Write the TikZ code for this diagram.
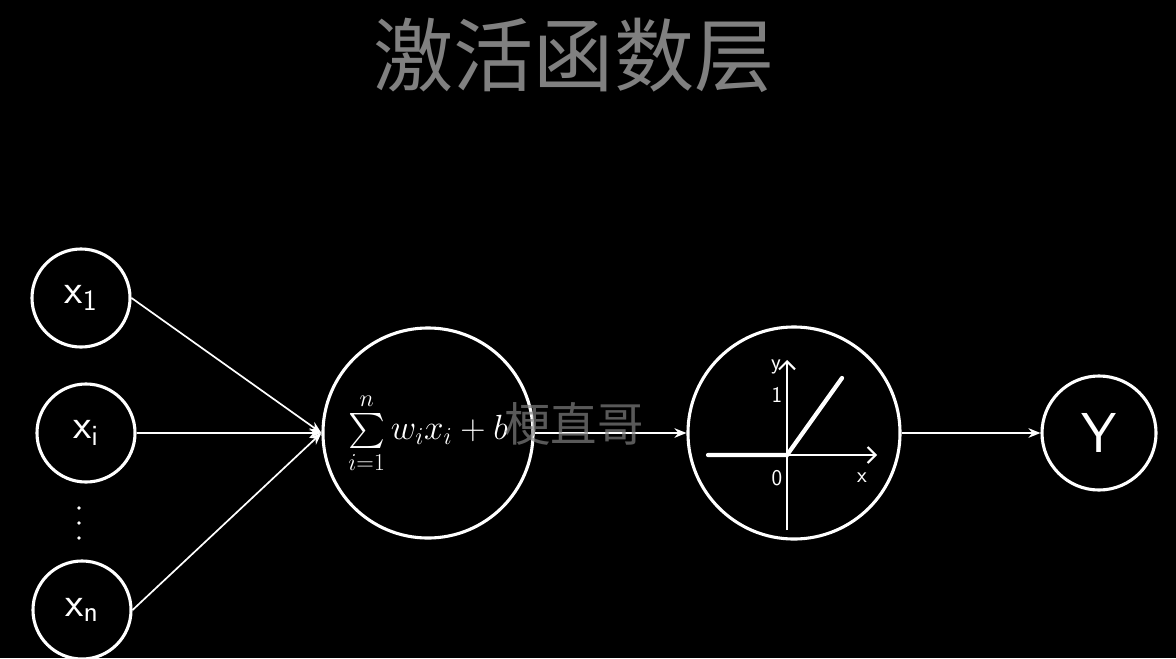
\documentclass[tikz,border=0pt]{standalone}
\usepackage{amsmath}
\usepackage{fontspec}
\newfontfamily\cjk{Noto Sans CJK SC}
\usetikzlibrary{positioning,arrows.meta,calc}
\definecolor{titlegray}{RGB}{128,128,128}

\begin{document}
\begin{tikzpicture}[
    x=0.025cm, y=-0.025cm,
    neuron/.style={circle, draw=white, line width=2.2pt, inner sep=0pt, text=white},
    arrow/.style={-{Stealth[length=3mm, width=2.4mm]}, draw=white, line width=1.2pt},
    hand/.style={font=\sffamily\fontsize{30}{32}\selectfont},
    axis/.style={draw=white, line width=1.4pt, -{Straight Barb[length=2mm]}},
    plotlabel/.style={font=\sffamily\fontsize{16}{18}\selectfont, text=white, inner sep=1pt}
]

% Background
\fill[black] (0,0) rectangle (1176,658);
\useasboundingbox (0,0) rectangle (1176,658);

% Title
\node[font=\cjk\fontsize{57}{60}\selectfont, text=titlegray] (title) at (574,55) {激活函数层};

% Inputs
\node[neuron, hand, minimum size=2.45cm] (x1) at (81,298) {$\mathsf{x}_{\mathsf{1}}$};
\node[neuron, hand, minimum size=2.45cm] (xi) at (86,433) {$\mathsf{x}_{\mathsf{i}}$};
\node[neuron, hand, minimum size=2.45cm] (xn) at (82,610) {$\mathsf{x}_{\mathsf{n}}$};
\foreach \y in {508,523,538}
    \fill[white] (79,\y) circle (1.8);

% Weighted sum, activation, output
\node[neuron, minimum size=5.25cm, font=\fontsize{24}{28}\selectfont] (sum) at (428,433)
    {$\sum\limits_{i=1}^{n} w_i x_i + b$};
\node[neuron, minimum size=5.3cm] (act) at (794,433) {};
\node[neuron, minimum size=2.85cm, font=\sffamily\fontsize{40}{44}\selectfont] (out) at (1099,433) {Y};

\draw[arrow] (x1.east) -- (sum.west);
\draw[arrow] (xi) -- (sum.west);
\draw[arrow] (xn.east) -- (sum.west);
\draw[arrow] (sum) -- (act);
\draw[arrow] (act) -- (out);

% ReLU sketch
\coordinate (o) at ($(act)+(-7,22)$);
\draw[axis] ($(o)+(0,75)$) -- ($(o)+(0,-95)$);
\draw[axis] ($(o)+(-79,0)$) -- ($(o)+(90,0)$);
\draw[white, line width=3pt, line cap=round] ($(o)+(-79,0)$) -- (o) -- ($(o)+(55,-77)$);
\node[plotlabel] (ylab) at ($(o)+(-11,-88)$) {y};
\node[plotlabel] (one) at ($(o)+(-10,-60)$) {1};
\node[plotlabel] (zero) at ($(o)+(-10,23)$) {0};
\node[plotlabel] (xlab) at ($(o)+(75,23)$) {x};

% Watermark
\node[font=\cjk\fontsize{33}{36}\selectfont, text=gray, opacity=0.7] (wm) at (574,424) {梗直哥};

\end{tikzpicture}
\end{document}
